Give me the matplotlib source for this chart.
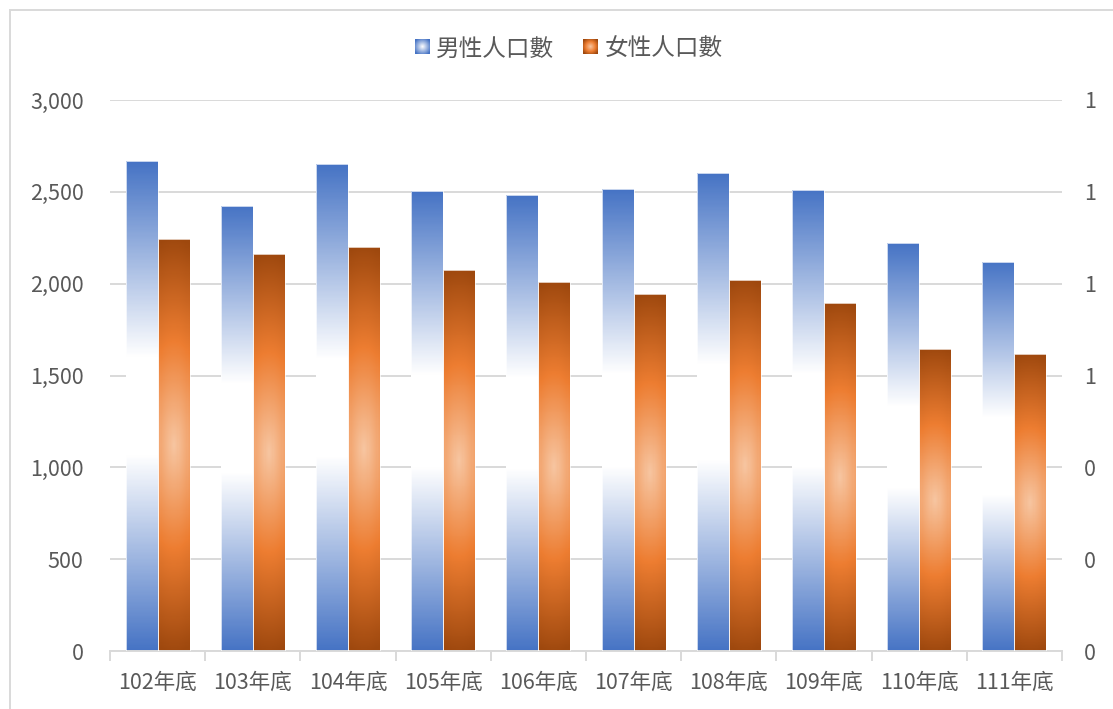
import matplotlib.pyplot as plt
import numpy as np
from matplotlib.colors import to_rgb
from matplotlib.image import BboxImage
from matplotlib.legend_handler import HandlerBase
from matplotlib.patches import Patch, Rectangle
from matplotlib.ticker import FormatStrFormatter, FuncFormatter, MultipleLocator
from matplotlib.transforms import Bbox, TransformedBbox

plt.rcParams["font.family"] = ["Noto Sans CJK TC", "DejaVu Sans"]

years = ["102年底", "103年底", "104年底", "105年底", "106年底",
         "107年底", "108年底", "109年底", "110年底", "111年底"]
male = [2667, 2423, 2651, 2504, 2482, 2515, 2602, 2510, 2221, 2118]
female = [2243, 2161, 2199, 2074, 2009, 1943, 2020, 1894, 1644, 1617]

TEXT = "#595959"
GRID = "#D9D9D9"
BLUE = "#4472C4"
ORANGE = "#ED7D31"
DARK = "#9E480E"
PEACH = "#F7C6A2"


def ramp(u, stops):
    # stops: list of (pos, color)
    pos = [p for p, _ in stops]
    cols = np.array([to_rgb(c) for _, c in stops])
    out = np.zeros(u.shape + (3,))
    for k in range(3):
        out[..., k] = np.interp(u, pos, cols[:, k])
    return out


def blue_grad(n=400, m=30):
    t = np.linspace(0, 1, n)[:, None] * np.ones((1, m))
    u = np.abs(t - 0.5) * 2
    return ramp(u, [(0, "white"), (0.2, "white"), (1, BLUE)])


def orange_grad(n=400, m=30):
    t = np.linspace(0, 1, n)[:, None]
    s = np.linspace(0, 1, m)[None, :]
    u = np.sqrt(((t - 0.5) * 2) ** 2 + ((s - 0.5) * 0.5) ** 2)
    return ramp(np.clip(u, 0, 1), [(0, PEACH), (0.5, ORANGE), (1, DARK)])


def legend_square(kind):
    n = 30
    y, x = np.mgrid[0:n, 0:n] / (n - 1)
    r = np.clip(np.sqrt((x - 0.5) ** 2 + (y - 0.5) ** 2) * 1.6, 0, 1)
    if kind == "blue":
        return ramp(r, [(0, "white"), (1, BLUE)])
    return ramp(r, [(0, PEACH), (0.55, ORANGE), (1, DARK)])


class GradHandler(HandlerBase):
    def __init__(self, img):
        super().__init__()
        self.img = img

    def create_artists(self, legend, orig_handle, xdescent, ydescent,
                       width, height, fontsize, trans):
        side = min(width, height) * 1.0
        x0 = -xdescent + (width - side) / 2
        y0 = -ydescent + (height - side) / 2
        bb = TransformedBbox(Bbox.from_bounds(x0, y0, side, side), trans)
        im = BboxImage(bb, interpolation="bilinear")
        im.set_data(self.img)
        return [im]


fig = plt.figure(figsize=(11.13, 7.09), dpi=100)
ax = fig.add_axes([110 / 1113, 1 - 651 / 709, (1062 - 110) / 1113, 551 / 709])

x = np.arange(len(years))
w = 0.336
bars_m = ax.bar(x - w / 2, male, w, color=BLUE, edgecolor="none", zorder=1)
bars_f = ax.bar(x + w / 2, female, w, color=DARK, edgecolor="none", zorder=1)

gb = blue_grad()
go = orange_grad()
for bars, g in ((bars_m, gb), (bars_f, go)):
    for p in bars:
        x0, y0 = p.get_x(), p.get_y()
        bw, bh = p.get_width(), p.get_height()
        im = ax.imshow(g, extent=[x0 - 0.01, x0 + bw + 0.01, y0 - 10, y0 + bh + 10],
                       aspect="auto", interpolation="nearest", zorder=2)
        im.set_clip_path(p)
        ax.add_patch(Rectangle((x0, y0), bw, bh,
                               fill=False, edgecolor="white", lw=0.5, zorder=3))

ax.set_xlim(-0.5, len(years) - 0.5)
ax.set_ylim(0, 3000)
ax.yaxis.set_major_locator(MultipleLocator(500))
ax.yaxis.set_major_formatter(FuncFormatter(lambda v, p: f"{v:,.0f}"))
ax.grid(axis="y", color=GRID, lw=1.4, zorder=0)
ax.set_axisbelow(True)

ax.set_xticks(x)
ax.set_xticklabels(years)
ax.set_xticks(np.arange(-0.5, len(years)), minor=True)
ax.tick_params(axis="x", which="major", length=0, pad=15, labelsize=15.5,
               labelcolor=TEXT)
ax.tick_params(axis="x", which="minor", length=7, width=1.4, color=GRID)
ax.tick_params(axis="y", length=0, pad=19, labelsize=15.5, labelcolor=TEXT)
for s in ("top", "left", "right"):
    ax.spines[s].set_visible(False)
ax.spines["bottom"].set_color(GRID)
ax.spines["bottom"].set_linewidth(1.4)

ax2 = ax.twinx()
ax2.set_ylim(0, 1.2)
ax2.yaxis.set_major_locator(MultipleLocator(0.2))
ax2.yaxis.set_major_formatter(FormatStrFormatter("%.0f"))
ax2.tick_params(axis="y", length=0, pad=16, labelsize=15.5, labelcolor=TEXT)
for s in ax2.spines.values():
    s.set_visible(False)

h1 = Patch(label="男性人口數")
h2 = Patch(label="女性人口數")
fig.legend(handles=[h1, h2], loc="center", bbox_to_anchor=(0.511, 0.931),
           ncol=2, frameon=False, fontsize=17, labelcolor=TEXT,
           handlelength=0.6, handleheight=0.6, handletextpad=0.3,
           columnspacing=1.2,
           handler_map={h1: GradHandler(legend_square("blue")),
                        h2: GradHandler(legend_square("orange"))})

fig.add_artist(Rectangle((10 / 1113, -0.5), 2, 1.5 - 10 / 709,
                         transform=fig.transFigure, fill=False,
                         edgecolor=GRID, lw=1.4))

fig.savefig("out.png", dpi=100)
